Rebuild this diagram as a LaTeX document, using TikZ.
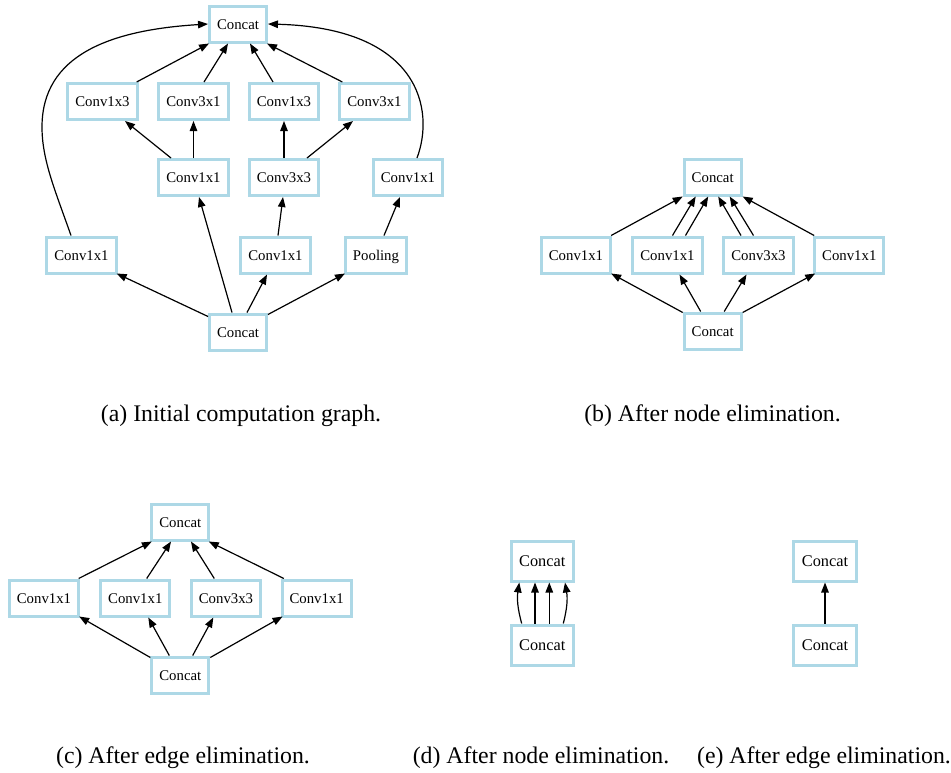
\documentclass[tikz,border=0pt]{standalone}
\usepackage{fontspec}
\setmainfont{Liberation Serif}
\usetikzlibrary{arrows.meta}
\definecolor{nodeblue}{HTML}{ADD8E6}
\begin{document}
\begin{tikzpicture}[x=1pt,y=-1pt,
  gnode/.style={draw=nodeblue, line width=3pt, rectangle, font=\fontsize{14.8}{16}\selectfont, inner xsep=7.5pt, inner ysep=0pt, minimum height=36pt, text height=10pt, text depth=0pt},
  gbig/.style={gnode, font=\fontsize{16.3}{18}\selectfont, minimum height=40pt, inner xsep=8.2pt, text height=11pt},
  edge/.style={line width=1.2pt, -{Triangle[length=10pt,width=7.5pt]}},
  captext/.style={font=\fontsize{23.8}{28}\selectfont, inner sep=0pt}
]
\useasboundingbox (0,0) rectangle (951,772);

% ---------- (a) ----------
\node[gnode] (tA) at (238,24) {Concat};
\node[gnode] (c13a) at (102.5,101.5) {Conv1x3};
\node[gnode] (c31a) at (193.5,101.5) {Conv3x1};
\node[gnode] (c13b) at (284,101.5) {Conv1x3};
\node[gnode] (c31b) at (374.5,101.5) {Conv3x1};
\node[gnode] (c11m) at (193.5,177.5) {Conv1x1};
\node[gnode] (c33) at (284,177.5) {Conv3x3};
\node[gnode] (c11r) at (408,177.5) {Conv1x1};
\node[gnode] (c11l) at (81.5,255) {Conv1x1};
\node[gnode] (c11b) at (275.5,255) {Conv1x1};
\node[gnode] (pool) at (376,255) {Pooling};
\node[gnode] (bA) at (238,332) {Concat};

\draw[edge] ([xshift=-2pt]c13a.north east) -- ([xshift=1pt]tA.south west);
\draw[edge] ([xshift=10.5pt]c31a.north) -- ([xshift=-10pt]tA.south);
\draw[edge] ([xshift=-11pt]c13b.north) -- ([xshift=12pt]tA.south);
\draw[edge] ([xshift=4pt]c31b.north west) -- ([xshift=-1pt]tA.south east);
\draw[edge] ([xshift=-22.5pt]c11m.north) -- ([xshift=22.5pt]c13a.south);
\draw[edge] (c11m.north) -- (c31a.south);
\draw[edge] (c33.north) -- (c13b.south);
\draw[edge] ([xshift=23pt]c33.north) -- ([xshift=-21.5pt]c31b.south);
\draw[edge] ([xshift=2.5pt]c11b.north) -- ([xshift=-1pt]c33.south);
\draw[edge] ([xshift=8pt]pool.north) -- ([xshift=-8pt]c11r.south);
\draw[edge] ([yshift=-4pt]bA.north west) -- ([xshift=-1pt,yshift=1pt]c11l.south east);
\draw[edge] ([xshift=-6pt]bA.north) -- ([xshift=5.5pt]c11m.south);
\draw[edge] ([xshift=9pt]bA.north) -- ([xshift=-8.5pt]c11b.south);
\draw[edge] ([yshift=-2pt]bA.north east) -- ([xshift=1pt,yshift=1pt]pool.south west);
\draw[edge] ([xshift=-10.5pt]c11l.north) .. controls (55,190) and (42,160) .. (42,127) .. controls (42,55) and (110,30) .. (tA.west);
\draw[edge] ([xshift=9pt]c11r.north) .. controls (435,110) and (420,28) .. (tA.east);

% ---------- (b) ----------
\node[gnode] (tB) at (712.7,177) {Concat};
\node[gnode] (b1) at (576,255) {Conv1x1};
\node[gnode] (b2) at (667.5,255) {Conv1x1};
\node[gnode] (b3) at (758.5,255) {Conv3x3};
\node[gnode] (b4) at (849.3,255) {Conv1x1};
\node[gnode] (bB) at (712.7,331) {Concat};

\draw[edge] ([xshift=-1pt]b1.north east) -- (tB.south west);
\draw[edge] ([xshift=5pt]b2.north) -- ([xshift=-17pt]tB.south);
\draw[edge] ([xshift=18pt]b2.north) -- ([xshift=-4.5pt]tB.south);
\draw[edge] ([xshift=-17.5pt]b3.north) -- ([xshift=5.5pt]tB.south);
\draw[edge] ([xshift=-5pt]b3.north) -- ([xshift=17pt]tB.south);
\draw[edge] ([xshift=1pt]b4.north west) -- (tB.south east);
\draw[edge] ([yshift=-1pt]bB.north west) -- ([xshift=-1pt,yshift=1pt]b1.south east);
\draw[edge] ([xshift=-12pt]bB.north) -- ([xshift=12pt]b2.south);
\draw[edge] ([xshift=11.5pt]bB.north) -- ([xshift=-12pt]b3.south);
\draw[edge] ([yshift=-1pt]bB.north east) -- ([xshift=2pt,yshift=1pt]b4.south west);

% ---------- (c) ----------
\node[gnode] (tC) at (180.3,522) {Concat};
\node[gnode] (k1) at (44,598) {Conv1x1};
\node[gnode] (k2) at (135.3,598) {Conv1x1};
\node[gnode] (k3) at (226,598) {Conv3x3};
\node[gnode] (k4) at (316.7,598) {Conv1x1};
\node[gnode] (bC) at (180.3,675) {Concat};

\draw[edge] ([xshift=-1.5pt]k1.north east) -- ([xshift=1.5pt]tC.south west);
\draw[edge] ([xshift=11.4pt]k2.north) -- ([xshift=-9.3pt]tC.south);
\draw[edge] ([xshift=-11.7pt]k3.north) -- ([xshift=10.7pt]tC.south);
\draw[edge] ([xshift=3.3pt]k4.north west) -- ([xshift=-1.5pt]tC.south east);
\draw[edge] ([yshift=-2pt]bC.north west) -- ([xshift=-1pt,yshift=1pt]k1.south east);
\draw[edge] ([xshift=-11pt]bC.north) -- ([xshift=13pt]k2.south);
\draw[edge] ([xshift=12.4pt]bC.north) -- ([xshift=-12.7pt]k3.south);
\draw[edge] ([yshift=-2pt]bC.north east) -- ([xshift=2pt,yshift=1pt]k4.south west);

% ---------- (d) ----------
\node[gbig] (tD) at (542.3,561) {Concat};
\node[gbig] (bD) at (542.3,645) {Concat};
\draw[edge] ([xshift=-20.6pt]bD.north) to[bend left=12] ([xshift=-23pt]tD.south);
\draw[edge] ([xshift=-7.3pt]bD.north) -- ([xshift=-7.3pt]tD.south);
\draw[edge] ([xshift=7pt]bD.north) -- ([xshift=7pt]tD.south);
\draw[edge] ([xshift=21pt]bD.north) to[bend right=12] ([xshift=22.7pt]tD.south);

% ---------- (e) ----------
\node[gbig] (tE) at (825,561) {Concat};
\node[gbig] (bE) at (825,645) {Concat};
\draw[edge] (bE.north) -- (tE.south);

% ---------- captions ----------
\node[captext] (capa) at (241,416) {(a) Initial computation graph.};
\node[captext] (capb) at (712.5,416) {(b) After node elimination.};
\node[captext] (capc) at (183,758) {(c) After edge elimination.};
\node[captext] (capd) at (541,758) {(d) After node elimination.};
\node[captext] (cape) at (824,758) {(e) After edge elimination.};
\end{tikzpicture}
\end{document}
